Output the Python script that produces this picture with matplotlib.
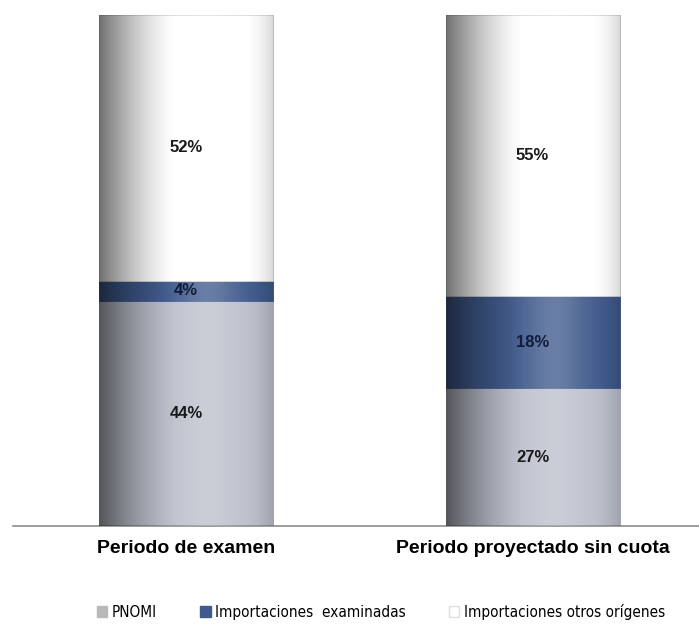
import numpy as np
import matplotlib.pyplot as plt
from matplotlib.patches import Patch

plt.rcParams['font.family'] = ['Liberation Sans', 'DejaVu Sans']

periodos = ['Periodo de examen', 'Periodo proyectado sin cuota']
pnomi = [44, 27]
imp_examinadas = [4, 18]
imp_otros = [52, 55]

series = ['PNOMI', 'Importaciones  examinadas', 'Importaciones otros orígenes']
colores = ['#bcc0cc', '#405a8c', '#ffffff']

fig = plt.figure(figsize=(6.99, 6.33), dpi=100)
ax = fig.add_axes([13 / 699, 1 - 526 / 633, 686 / 699, 511 / 633])

x = np.arange(len(periodos))
ancho = 0.502

# sombreado tipo cilindro: izquierda oscura, centro claro, borde derecho algo oscuro
u = np.linspace(0, 1, 200)
sombra = 0.56 * np.clip(1 - u / 0.45, 0, None) ** 1.5 + 0.16 * np.clip((u - 0.82) / 0.18, 0, None) ** 2
brillo = 0.22 * np.exp(-((u - 0.62) / 0.18) ** 2)
capa_osc = np.zeros((1, len(u), 4))
capa_osc[..., 3] = sombra
capa_clara = np.ones((1, len(u), 4))
capa_clara[..., 3] = brillo

base = np.zeros(len(periodos))
for vals, col, nombre in zip([pnomi, imp_examinadas, imp_otros], colores, series):
    barras = ax.bar(x, vals, ancho, bottom=base, color=col, label=nombre,
                    edgecolor='#d8d8d8' if col == '#ffffff' else col, linewidth=0.6, zorder=2)
    for b in barras:
        x0, y0, w, h = b.get_x(), b.get_y(), b.get_width(), b.get_height()
        for capa in (capa_clara, capa_osc):
            im = ax.imshow(capa, extent=[x0, x0 + w, y0, y0 + h], aspect='auto',
                           interpolation='bilinear', zorder=3)
            im.set_clip_path(b)
    for xi, v, b0 in zip(x, vals, base):
        ax.text(xi, b0 + v / 2, f'{v}%', ha='center', va='center', fontsize=12,
                fontweight='bold', color='#1a1a1a' if col != '#405a8c' else '#101c38', zorder=4)
    base = base + np.array(vals)

ax.set_xlim(-0.499, 1.48)
ax.set_ylim(0, 100)
ax.set_xticks(x)
ax.set_xticklabels(periodos, fontsize=14, fontweight='bold')
ax.tick_params(axis='x', length=0, pad=10)
ax.set_yticks([])
for lado in ['top', 'right', 'left']:
    ax.spines[lado].set_visible(False)
ax.spines['bottom'].set_color('#8c8c8c')
ax.spines['bottom'].set_linewidth(1.2)

handles = [Patch(facecolor='#b9b9b9', edgecolor='#b9b9b9'),
           Patch(facecolor=colores[1], edgecolor=colores[1]),
           Patch(facecolor='#ffffff', edgecolor='#dddddd')]
fig.legend(handles, series, loc='center', bbox_to_anchor=(381 / 699, 1 - 612 / 633), ncol=3,
           frameon=False, handlelength=0.7, handleheight=0.7, handletextpad=0.3,
           columnspacing=2.8, prop={'family': 'DejaVu Sans', 'stretch': 'condensed', 'size': 11})

fig.savefig('out.png', dpi=100)
